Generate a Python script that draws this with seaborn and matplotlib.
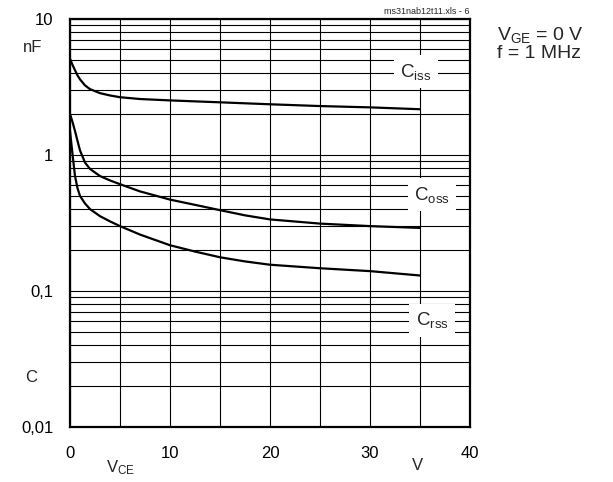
import numpy as np
import pandas as pd
import matplotlib
matplotlib.use("Agg")
import matplotlib.pyplot as plt
import seaborn as sns
from matplotlib.ticker import FixedLocator, NullFormatter

# ---- data ----
x_ciss = [0, 0.25, 0.5, 0.75, 1, 1.5, 2, 3, 4, 5, 7, 10, 15, 20, 25, 30, 35]
ciss = [5.1, 4.6, 4.2, 3.85, 3.6, 3.25, 3.05, 2.85, 2.74, 2.66, 2.58, 2.52, 2.44, 2.36, 2.29, 2.24, 2.17]

x_coss = [0, 0.25, 0.5, 0.75, 1, 1.5, 2, 3, 4, 5, 7, 10, 12.5, 15, 17.5, 20, 25, 30, 35]
coss = [2.0, 1.75, 1.5, 1.27, 1.08, 0.88, 0.79, 0.70, 0.65, 0.61, 0.54, 0.47, 0.43, 0.393, 0.36, 0.336, 0.313, 0.30, 0.291]

x_crss = [0, 0.17, 0.33, 0.5, 0.75, 1, 1.5, 2, 3, 4, 5, 7, 10, 12.5, 15, 17.5, 20, 25, 30, 35]
crss = [1.5, 1.15, 0.9, 0.7, 0.57, 0.5, 0.44, 0.40, 0.355, 0.325, 0.30, 0.26, 0.217, 0.195, 0.177, 0.165, 0.156, 0.147, 0.14, 0.13]

label_texts = ["C$_{iss}$", "C$_{oss}$", "C$_{rss}$"]
label_x = [34.6, 36.2, 36.2]
label_y = [4.1, 0.51, 0.061]

x_ticks = [0, 10, 20, 30, 40]
x_ticklabels = ["0", "10", "20", "30", "40"]
y_ticks = [0.01, 0.1, 1, 10]
y_ticklabels = ["0,01", "0,1", "1", "10"]

df = pd.concat([
    pd.DataFrame({"VCE": x_ciss, "C": ciss, "series": "Ciss"}),
    pd.DataFrame({"VCE": x_coss, "C": coss, "series": "Coss"}),
    pd.DataFrame({"VCE": x_crss, "C": crss, "series": "Crss"}),
], ignore_index=True)

sns.set_style("white")
plt.rcParams["font.family"] = ["Liberation Sans", "DejaVu Sans"]
plt.rcParams["mathtext.default"] = "regular"

fig = plt.figure(figsize=(6.13, 4.82), dpi=100)
ax = fig.add_axes([70 / 613, 1 - 427 / 482, 400 / 613, 408 / 482])

sns.lineplot(data=df, x="VCE", y="C", hue="series", units="series",
             estimator=None, sort=False, legend=False,
             palette=["black"] * 3, linewidth=1.6, ax=ax, zorder=3)
for ln in ax.get_lines():
    ln.set_solid_joinstyle("round")

ax.set_yscale("log")
ax.set_xlim(0, 40)
ax.set_ylim(0.01, 10)

ax.xaxis.set_major_locator(FixedLocator(x_ticks))
ax.set_xticklabels(x_ticklabels)
ax.xaxis.set_minor_locator(FixedLocator([5, 15, 25, 35]))
ax.yaxis.set_major_locator(FixedLocator(y_ticks))
ax.set_yticklabels(y_ticklabels)
minor_y = [m * d for d in [0.01, 0.1, 1] for m in range(2, 10)]
ax.yaxis.set_minor_locator(FixedLocator(minor_y))
ax.yaxis.set_minor_formatter(NullFormatter())

ax.grid(True, which="both", color="black", linewidth=0.8)
ax.tick_params(which="both", length=0, labelsize=12, colors="black")
ax.tick_params(axis="y", pad=12)
ax.tick_params(axis="x", pad=14)
for s in ax.spines.values():
    s.set_visible(True)
    s.set_color("black")
    s.set_linewidth(1.6)
ax.set_xlabel("")
ax.set_ylabel("")

for t, lx, ly in zip(label_texts, label_x, label_y):
    ax.text(lx, ly, t, fontsize=13.5, ha="center", va="center", zorder=4,
            bbox=dict(boxstyle="square,pad=0.35", fc="white", ec="none"))

fig.text(23 / 613, 1 - 48 / 482, "nF", fontsize=12, ha="left", va="center")
fig.text(25 / 613, 1 - 377 / 482, "C", fontsize=12, ha="left", va="center")
fig.text(120 / 613, 1 - 468 / 482, "V$_{CE}$", fontsize=12, ha="center", va="center")
fig.text(417 / 613, 1 - 466 / 482, "V", fontsize=12, ha="center", va="center")
fig.text(470 / 613, 1 - 11 / 482, "ms31nab12t11.xls - 6", fontsize=6.5, ha="right", va="center")
fig.text(497 / 613, 1 - 35 / 482, "V$_{GE}$ = 0 V", fontsize=14, ha="left", va="center")
fig.text(497 / 613, 1 - 53 / 482, "f = 1 MHz", fontsize=14, ha="left", va="center")

fig.savefig("out.png", dpi=100)
